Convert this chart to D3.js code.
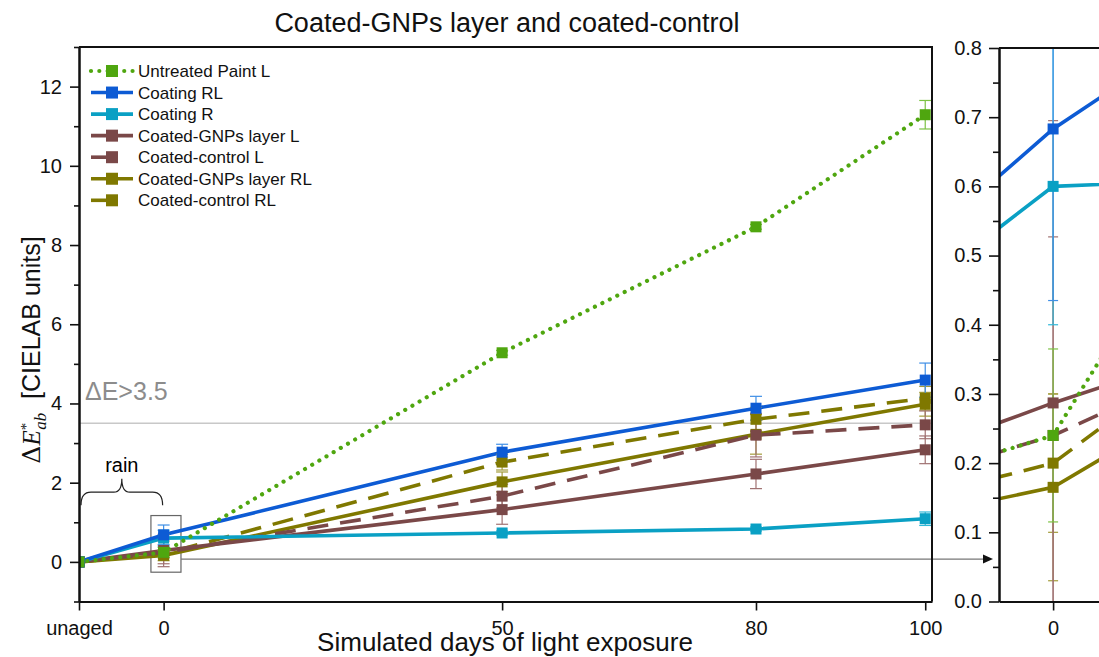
<!DOCTYPE html>
<html>
<head>
<meta charset="utf-8">
<script src="https://cdn.jsdelivr.net/npm/d3@7"></script>
<style>
  body { margin: 0; background: #fff; }
  text { font-family: "Liberation Sans", Arial, sans-serif; }
</style>
</head>
<body>
<svg id="chart" width="1099" height="657"></svg>
<script>
// x positions on the day axis and the labels printed under them
const xDays = [0, 10, 50, 80, 100];
const xLabels = ["unaged", "0", "50", "80", "100"];

// series values (ΔE*ab)
const untreatedL = [0, 0.24, 5.28, 8.46, 11.29];
const coatingRL  = [0, 0.683, 2.77, 3.88, 4.59];
const coatingR   = [0, 0.60, 0.73, 0.83, 1.09];
const gnpsL      = [0, 0.287, 1.32, 2.22, 2.83];
const controlL   = [0, 0.24, 1.66, 3.20, 3.46];
const gnpsRL     = [0, 0.165, 2.02, 3.22, 3.98];
const controlRL  = [0, 0.20, 2.52, 3.60, 4.13];

// +/- error values
const errUntreatedL = [0, 0.125, 0.06, 0.06, 0.36];
const errCoatingRL  = [0, 0.248, 0.20, 0.30, 0.43];
const errCoatingR   = [0, 0.20, 0.05, 0.05, 0.17];
const errGnpsL      = [0, 0.408, 0.37, 0.37, 0.35];
const errControlL   = [0, 0.287, 0.30, 0.55, 0.35];
const errGnpsRL     = [0, 0.135, 0.25, 0.50, 0.30];
const errControlRL  = [0, 0.10, 0.20, 0.30, 0.30];

const series = [
  { name: "Untreated Paint L",   v: untreatedL, e: errUntreatedL, color: "#4fa60f", ecolor: "#7cc243", dash: "0.01 8.3", width: 4.2 },
  { name: "Coating RL",          v: coatingRL,  e: errCoatingRL,  color: "#0d5bd4", ecolor: "#3f8fe6", dash: null, width: 3.6 },
  { name: "Coating R",           v: coatingR,   e: errCoatingR,   color: "#0aa0c4", ecolor: "#2fb8d8", dash: null, width: 3.6 },
  { name: "Coated-GNPs layer L", v: gnpsL,      e: errGnpsL,      color: "#7a4848", ecolor: "#a07272", dash: null, width: 3.6 },
  { name: "Coated-control L",    v: controlL,   e: errControlL,   color: "#7a4848", ecolor: "#a07272", dash: "21 12", width: 3.6 },
  { name: "Coated-GNPs layer RL",v: gnpsRL,     e: errGnpsRL,     color: "#7f7800", ecolor: "#a39c3a", dash: null, width: 3.6 },
  { name: "Coated-control RL",   v: controlRL,  e: errControlRL,  color: "#7f7800", ecolor: "#a39c3a", dash: "21 12", width: 3.6 }
];

const mainTicks = [0, 2, 4, 6, 8, 10, 12];
const mainMinor = [-1, 1, 3, 5, 7, 9, 11, 13];
const insetTicks = [0, 0.1, 0.2, 0.3, 0.4, 0.5, 0.6, 0.7, 0.8];
const insetMinor = [0.05, 0.15, 0.25, 0.35, 0.45, 0.55, 0.65, 0.75];
const threshold = 3.5;

const svg = d3.select("#chart");

// main panel
const x = d3.scaleLinear().domain([0, 100.8]).range([79, 932]);
const y = d3.scaleLinear().domain([-1, 13]).range([601.5, 47]);
// zoomed inset around day "0"
const xi = d3.scaleLinear().domain([9, 11.5]).range([999, 999 + 2.5 * 54.1]);
const yi = d3.scaleLinear().domain([0, 0.8]).range([601.5, 48]);

const defs = svg.append("defs");
defs.append("clipPath").attr("id", "clipMain").append("rect")
  .attr("x", 79).attr("y", 47).attr("width", 853).attr("height", 555);
defs.append("clipPath").attr("id", "clipInset").append("rect")
  .attr("x", 999).attr("y", 48).attr("width", 140).attr("height", 554);

// threshold line + label
svg.append("line")
  .attr("x1", x(0)).attr("x2", x(100.8))
  .attr("y1", y(threshold)).attr("y2", y(threshold))
  .attr("stroke", "#c8c8c8").attr("stroke-width", 1.6);
svg.append("text").attr("x", 85).attr("y", 400)
  .attr("font-size", 25).attr("fill", "#8c8c8c").text("ΔE>3.5");

// "rain" brace from unaged to 0
{
  const x0 = x(0) + 2, x1 = x(10) - 1, xm = (x0 + x1) / 2;
  const yb = y(1.43), ym = y(1.76), yp = y(2.1);
  const p = `M${x0},${yb} Q${x0},${ym} ${x0 + 10},${ym} L${xm - 8},${ym} Q${xm},${ym} ${xm},${yp}`
          + ` Q${xm},${ym} ${xm + 8},${ym} L${x1 - 10},${ym} Q${x1},${ym} ${x1},${yb}`;
  svg.append("path").attr("d", p).attr("fill", "none").attr("stroke", "#222").attr("stroke-width", 1.2);
  svg.append("text").attr("x", xm).attr("y", 472).attr("text-anchor", "middle")
    .attr("font-size", 20).text("rain");
}

// box around day 0 + arrow to inset
svg.append("rect")
  .attr("x", x(8.5)).attr("y", y(1.17))
  .attr("width", x(12.05) - x(8.5)).attr("height", y(-0.26) - y(1.17))
  .attr("fill", "none").attr("stroke", "#666").attr("stroke-width", 1.2);
svg.append("line")
  .attr("x1", x(12.05)).attr("x2", 985)
  .attr("y1", y(0.07)).attr("y2", y(0.07))
  .attr("stroke", "#777").attr("stroke-width", 1.2);
svg.append("path")
  .attr("d", `M983,${y(0.07) - 4.5} L993,${y(0.07)} L983,${y(0.07) + 4.5} Z`)
  .attr("fill", "#111");

function drawSeries(g, xs, ys, capW) {
  const draw = series.slice().reverse();
  draw.forEach(s => {
    const pts = xDays.map((d, i) => ({ x: d, v: s.v[i], e: s.e[i] }));
    const line = d3.line().x(d => xs(d.x)).y(d => ys(d.v));
    g.append("path").datum(pts)
      .attr("fill", "none").attr("stroke", s.color)
      .attr("stroke-width", s.width)
      .attr("stroke-dasharray", s.dash)
      .attr("stroke-linecap", s.dash && s.dash.startsWith("0.01") ? "round" : "butt")
      .attr("d", line);
  });
  draw.forEach(s => {
    const pts = xDays.map((d, i) => ({ x: d, v: s.v[i], e: s.e[i] })).filter(d => d.e > 0);
    const eb = g.selectAll(null).data(pts).enter().append("g").attr("stroke", s.ecolor).attr("stroke-width", 1.2);
    eb.append("line").attr("x1", d => xs(d.x)).attr("x2", d => xs(d.x))
      .attr("y1", d => ys(d.v - d.e)).attr("y2", d => ys(d.v + d.e));
    eb.append("line").attr("x1", d => xs(d.x) - capW / 2).attr("x2", d => xs(d.x) + capW / 2)
      .attr("y1", d => ys(d.v - d.e)).attr("y2", d => ys(d.v - d.e));
    eb.append("line").attr("x1", d => xs(d.x) - capW / 2).attr("x2", d => xs(d.x) + capW / 2)
      .attr("y1", d => ys(d.v + d.e)).attr("y2", d => ys(d.v + d.e));
  });
  draw.forEach(s => {
    const pts = xDays.map((d, i) => ({ x: d, v: s.v[i] }));
    g.selectAll(null).data(pts).enter().append("rect")
      .attr("x", d => xs(d.x) - 5.5).attr("y", d => ys(d.v) - 5.5)
      .attr("width", 11).attr("height", 11)
      .attr("fill", s.color);
  });
}

drawSeries(svg.append("g").attr("clip-path", "url(#clipMain)"), x, y, 12);
drawSeries(svg.append("g").attr("clip-path", "url(#clipInset)"), xi, yi, 10);

// axes
function styleAxis(g) {
  g.selectAll(".domain").attr("stroke", "#111").attr("stroke-width", 2);
  g.selectAll(".tick line").attr("stroke", "#111").attr("stroke-width", 1.6);
  g.selectAll(".tick text").attr("font-size", 20).attr("fill", "#111")
    .attr("font-family", '"Liberation Sans", Arial, sans-serif');
}

svg.append("g").attr("transform", "translate(79,0)")
  .call(d3.axisLeft(y).tickValues(mainMinor).tickSize(5).tickSizeOuter(0).tickFormat(""))
  .call(styleAxis);
svg.append("g").attr("transform", "translate(79,0)")
  .call(d3.axisLeft(y).tickValues(mainTicks).tickSize(9).tickSizeOuter(0).tickPadding(8).tickFormat(d3.format("d")))
  .call(styleAxis);
svg.append("g").attr("transform", "translate(0,601.5)")
  .call(d3.axisBottom(x).tickValues(xDays).tickSize(9).tickSizeOuter(0).tickPadding(10)
    .tickFormat((d, i) => xLabels[i]))
  .call(styleAxis);
// frame top + right
svg.append("path")
  .attr("d", `M${x(0)},${y(13)} H${x(100.8)} V${y(-1)}`)
  .attr("fill", "none").attr("stroke", "#111").attr("stroke-width", 2);

// inset axes
svg.append("g").attr("transform", "translate(999,0)")
  .call(d3.axisLeft(yi).tickValues(insetMinor).tickSize(6).tickSizeOuter(0).tickFormat(""))
  .call(styleAxis);
svg.append("g").attr("transform", "translate(999,0)")
  .call(d3.axisLeft(yi).tickValues(insetTicks).tickSize(10).tickSizeOuter(0).tickPadding(7).tickFormat(d3.format(".1f")))
  .call(styleAxis);
svg.append("g").attr("transform", "translate(0,601.5)")
  .call(d3.axisBottom(xi).tickValues([10]).tickSize(9).tickSizeOuter(0).tickPadding(10).tickFormat(() => "0"))
  .call(styleAxis);
svg.append("line").attr("x1", 999).attr("x2", 1099).attr("y1", yi(0.8)).attr("y2", yi(0.8))
  .attr("stroke", "#111").attr("stroke-width", 2);

// legend
const legend = svg.append("g").attr("transform", "translate(91,71)");
series.forEach((s, i) => {
  const row = legend.append("g").attr("transform", `translate(0,${i * 21.55})`);
  const dots = s.dash && s.dash.startsWith("0.01");
  row.append("line").attr("x1", 0).attr("x2", s.dash && !dots ? 20 : 42)
    .attr("stroke", s.color).attr("stroke-width", s.width)
    .attr("stroke-dasharray", dots ? s.dash : null)
    .attr("stroke-linecap", dots ? "round" : "butt");
  row.append("rect").attr("x", 21 - 6).attr("y", -6).attr("width", 12).attr("height", 12).attr("fill", s.color);
  row.append("text").attr("x", 47).attr("y", 6).attr("font-size", 17).attr("fill", "#111").text(s.name);
});

// title & axis labels
svg.append("text").attr("x", 507).attr("y", 32).attr("text-anchor", "middle")
  .attr("font-size", 27).attr("fill", "#111").text("Coated-GNPs layer and coated-control");
svg.append("text").attr("x", 505).attr("y", 651).attr("text-anchor", "middle")
  .attr("font-size", 26).attr("fill", "#111").text("Simulated days of light exposure");

const yl = svg.append("text").attr("transform", "translate(40,350) rotate(-90)")
  .attr("text-anchor", "middle").attr("font-size", 25).attr("fill", "#111");
yl.append("tspan").attr("font-family", '"DejaVu Serif", "Liberation Serif", serif').text("Δ");
yl.append("tspan").attr("font-family", '"Liberation Serif", serif').attr("font-style", "italic").text("E");
yl.append("tspan").attr("font-family", '"Liberation Serif", serif').attr("font-size", 15).attr("dy", -9).text("*");
yl.append("tspan").attr("font-family", '"Liberation Serif", serif').attr("font-style", "italic")
  .attr("font-size", 17).attr("dx", -7).attr("dy", 15).text("ab");
yl.append("tspan").attr("dy", -6).text("\u00a0 [CIELAB units]");
</script>
</body>
</html>
